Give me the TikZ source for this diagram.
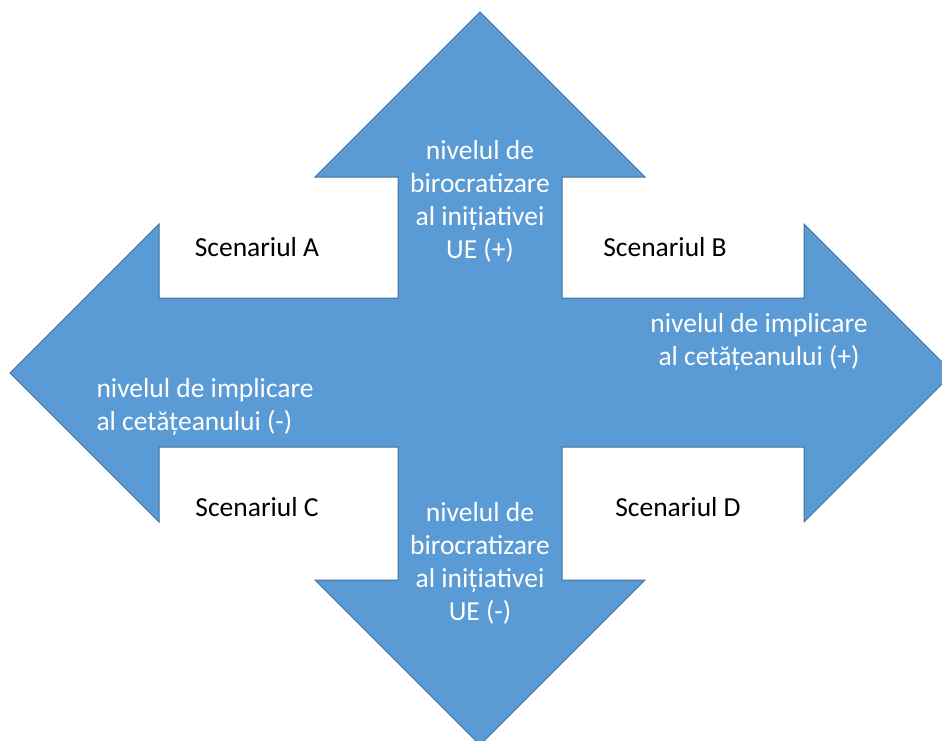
\documentclass[tikz,border=0pt]{standalone}
\usepackage{fontspec}
\setmainfont{Carlito}
\definecolor{arrowblue}{HTML}{5B9BD5}
\definecolor{arrowedge}{HTML}{41719C}
\begin{document}
\begin{tikzpicture}[x=1pt, y=-1pt, line join=miter,
  scen/.style={text=black, font=\fontsize{27.5}{33}\selectfont},
  axislabel/.style={text=white, font=\fontsize{27.5}{33}\selectfont, align=center}]

  \useasboundingbox (0,0) rectangle (942,740);

  \coordinate (Top) at (480,12);
  \coordinate (Right) at (953,373);
  \coordinate (Bottom) at (480,745);
  \coordinate (Left) at (10,373);

  \begin{scope}
    \clip (0,0) rectangle (942,740);
    \draw[fill=arrowblue, draw=arrowedge, line width=1pt]
      (Top) -- (645,177) -- (562,177) -- (562,298) -- (804,298) -- (804,224)
      -- (Right) -- (804,522) -- (804,447) -- (562,447) -- (562,580) -- (645,580)
      -- (Bottom) -- (315,580) -- (398,580) -- (398,447) -- (159,447) -- (159,522)
      -- (Left) -- (159,224) -- (159,298) -- (398,298) -- (398,177) -- (315,177)
      -- cycle;
  \end{scope}

  \node[scen] (scA) at (257,247) {Scenariul A};
  \node[scen] (scB) at (665,247) {Scenariul B};
  \node[scen] (scC) at (257,507) {Scenariul C};
  \node[scen] (scD) at (678,507) {Scenariul D};

  \node[axislabel] (birplus) at (480,201) {nivelul de\\birocratizare\\al inițiativei\\UE (+)};
  \node[axislabel] (birminus) at (480,563) {nivelul de\\birocratizare\\al inițiativei\\UE (-)};
  \node[axislabel] (implplus) at (759,342) {nivelul de implicare\\al cetățeanului (+)};
  \node[axislabel, align=left, anchor=west] (implminus) at (93,407) {nivelul de implicare\\al cetățeanului (-)};

\end{tikzpicture}
\end{document}
